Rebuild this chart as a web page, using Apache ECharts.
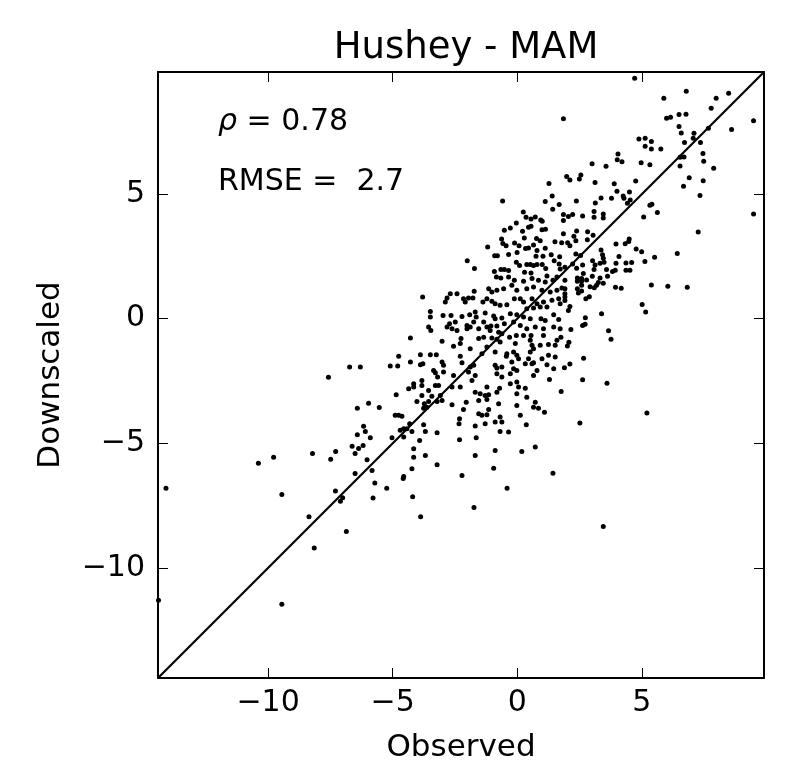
<!DOCTYPE html>
<html>
<head>
<meta charset="UTF-8">
<title>Hushey - MAM</title>
<script src="https://cdn.jsdelivr.net/npm/echarts@6/dist/echarts.min.js"></script>
</head>
<body style="margin:0;background:#fff">
<div id="chart" style="width:791px;height:768px;"></div>
<script type="text/javascript">
    // axis limits (same on both axes) and tick positions
    var axisRange = [-14.42, 9.9];
    var tickValues = [-10, -5, 0, 5];
    var titleText = 'Hushey - MAM';
    var xName = 'Observed';
    var yName = 'Downscaled';
    var rhoText = '0.78';
    var rmseText = '2.7';

    // [observed, downscaled]
    var points = [
        // upper right
        [4.71,9.65],[1.85,8.02],[5.88,8.85],[6.78,9.13],[7.98,8.85],[8.48,9.05],[5.99,8.04],[6.15,8.08],[6.49,8.19],[6.77,8.2],
        [7.78,8.45],[9.48,7.94],[6.49,7.71],[6.58,7.45],[7.09,7.44],[7.06,7.24],[7.35,7.07],[7.67,7.64],[8.6,7.59],[6.71,7.07],
        [4.88,7.21],[5.13,7.24],[5.38,7.11],[5.13,6.92],[5.38,6.81],[5.76,6.81],[4.04,6.61],[4.01,6.38],[4.2,6.3],[4.97,6.26],
        [5.32,6.18],[6.53,6.48],[6.69,6.49],[6.53,6.13],[7.45,6.63],[7.48,6.32],[7.88,6.04],[3.0,6.22],[3.56,6.12],[1.98,5.71],
        [2.11,5.57],[2.49,5.61],[2.55,5.77],[3.12,5.47],[3.89,5.42],[4.75,5.53],[6.9,5.66],[6.67,5.31],[7.46,5.54],[7.33,4.94],
        [4.0,5.11],[4.5,5.08],[4.25,4.92],[4.28,4.83],[4.53,4.76],[4.42,4.63],[3.78,4.83],[3.36,4.84],[3.13,4.64],[2.37,4.72],
        [9.48,4.2],[5.4,4.59],[5.32,4.55],[5.62,4.26],[5.07,4.08],[7.26,3.48],[6.42,2.62],[1.85,4.18],[2.05,4.1],[2.22,4.18],
        [2.62,4.12],[3.08,4.3],[3.08,4.07],[3.45,4.2],[3.45,4.04],[2.38,3.52],[2.27,3.31],[2.82,3.49],[3.04,3.35],[2.81,3.17],
        [1.85,3.41],[2.02,3.05],[2.11,2.93],[2.35,3.13],[2.35,2.6],[2.54,2.54],[3.36,2.76],[3.42,2.57],[3.96,3.0],[4.33,3.01],
        [4.49,3.2],[4.47,3.1],[4.77,2.8],[4.99,2.69],[4.08,2.5],[5.51,2.47],[5.12,2.29],[4.59,2.25],[4.36,2.23],[4.36,1.94],
        [4.52,1.94],[3.96,2.22],[3.93,1.94],[3.45,2.43],[3.48,2.26],[3.02,2.33],[3.12,2.15],[3.32,2.22],[3.08,1.97],[3.58,1.97],
        [3.82,1.89],[2.62,2.15],[2.38,2.02],[2.22,2.19],[1.91,2.06],[2.65,1.81],[1.78,3.05],
        // right middle
        [1.91,1.54],[2.41,1.63],[2.41,1.5],[2.58,1.61],[2.58,1.5],[2.78,1.55],[3.01,1.7],[3.32,1.63],[3.25,1.45],[3.45,1.42],
        [3.18,1.34],[3.62,1.7],[2.92,1.28],[3.09,1.24],[2.58,1.34],[2.41,1.2],[2.45,1.03],[2.58,1.11],[1.91,1.2],[1.91,1.0],
        [1.91,0.87],[1.91,0.73],[2.11,0.49],[2.05,0.33],[2.75,0.8],[2.89,0.88],[3.94,1.26],[4.17,1.22],[5.38,1.35],[6.04,1.3],
        [6.82,1.26],[5.01,0.57],[5.15,0.27],[3.38,0.2],[2.73,0.04],[2.62,-0.27],[2.72,-0.22],[2.15,-0.43],[3.66,-0.48],[3.76,-0.83],
        [2.07,-0.95],[2.01,-1.1],[2.66,-1.59],[2.11,-1.82],[1.89,-1.97],[2.62,-2.45],[3.6,-2.59],[5.2,-3.79],[2.51,-4.19],
        // lower left and bottom
        [-6.73,-1.94],[-6.3,-1.94],[-7.58,-2.35],[-6.42,-3.59],[-6.42,-4.66],[-6.63,-5.12],[-6.51,-5.41],[-6.37,-5.21],[-7.29,-5.33],[-7.49,-5.64],
        [-8.22,-5.41],[-9.78,-5.56],[-10.39,-5.8],[-6.51,-6.21],[-14.1,-6.8],[-9.45,-7.06],[-7.3,-6.92],[-7.01,-7.19],[-7.1,-7.33],[-8.36,-7.95],
        [-6.86,-8.54],[-8.15,-9.2],[-9.45,-11.46],[-14.4,-11.3],[-5.72,-6.59],[-5.24,-6.8],[-5.79,-7.2],[-4.2,-7.15],[-4.58,-6.41],[-3.88,-7.95],
        [-1.74,-7.58],[-0.41,-6.8],[3.45,-8.34],
        // upper centre
        [1.27,5.43],[1.4,4.92],[1.12,4.7],[-0.59,4.72],[1.42,4.39],[1.68,4.58],[0.24,4.28],[0.35,4.07],[0.55,4.0],[0.72,4.08],
        [0.94,3.96],[1.0,3.91],[-0.04,3.84],[-0.28,3.64],[-0.52,3.55],[0.21,3.51],[0.45,3.67],[0.55,3.71],[0.99,3.57],[1.13,3.59],
        [1.85,3.94],[-0.63,3.2],[0.28,3.24],[0.77,3.22],[0.92,3.13],[-0.45,2.93],[-0.58,3.02],[-0.11,3.04],[0.07,2.93],[0.33,2.82],
        [0.45,2.84],[0.65,2.96],[0.79,2.74],[1.12,2.83],[1.51,3.09],[-1.19,2.88],[-0.8,2.53],[-0.91,2.53],[-0.35,2.58],[-0.01,2.66],
        [0.75,2.51],[1.03,2.51],[1.36,2.57],[1.7,2.49],[-2.01,2.33],[-1.72,2.01],[-0.92,1.89],[-0.52,1.97],[-0.66,1.97],[-0.35,1.93],
        [-0.04,2.26],[0.09,2.13],[0.38,2.17],[0.52,2.17],[0.65,2.13],[0.79,2.17],[1.0,2.17],[1.14,2.01],[1.48,2.33],[1.68,2.19],
        [1.72,1.99],[0.29,1.86],[0.55,1.83],
        // centre
        [-0.84,1.67],[-0.66,1.63],[-0.35,1.67],[-0.12,1.54],[0.25,1.5],[0.59,1.61],[0.85,1.54],[1.12,1.47],[1.43,1.54],[1.59,1.67],
        [1.19,1.71],[-0.22,1.34],[-0.55,1.2],[-0.82,1.14],[-1.02,1.07],[-1.15,1.2],[-0.02,1.14],[0.38,1.2],[0.65,1.27],[0.99,1.14],
        [1.32,1.07],[1.59,1.14],[1.79,1.23],[-2.69,1.0],[-2.42,1.0],[-1.73,1.1],
        [-3.8,0.87],[-2.82,0.83],[-2.89,0.67],[-2.16,0.8],[-1.96,0.83],[-1.78,0.83],[-2.09,0.67],[-1.22,0.8],[-1.38,0.67],[-1.02,0.7],
        [-0.89,0.6],[-0.69,0.54],[-0.42,0.56],[-0.12,0.8],[0.12,0.8],[0.25,0.67],[0.59,0.8],[0.79,0.6],[1.05,0.67],[1.39,0.74],
        [1.66,0.8],[1.72,0.6],[0.38,0.4],[0.65,0.43],[0.92,0.47],[1.19,0.47],
        [-3.49,0.29],[-3.49,0.07],[-2.98,0.13],[-2.66,0.13],[-2.22,0.09],[-1.91,0.16],[-1.69,0.27],[-1.65,0.07],[-1.29,0.23],[-0.95,0.11],
        [-0.89,0.0],[-0.62,0.03],[-0.28,0.2],[-0.02,0.16],[0.25,0.07],[0.52,0.0],[0.95,0.0],[1.12,-0.07],[1.46,0.16],[1.66,-0.03],
        [-2.72,-0.2],[-2.49,-0.13],[-2.02,-0.27],[-1.75,-0.13],[-1.35,-0.13],[-1.22,-0.33],[-1.06,-0.29],[-0.82,-0.29],[-0.52,-0.2],[-0.15,-0.13],
        [0.12,-0.27],[0.38,-0.4],[0.72,-0.33],[1.05,-0.4],[1.46,-0.33],[1.72,-0.4],
        [-3.56,-0.33],[-3.47,-0.47],[-2.82,-0.33],[-2.62,-0.4],[-2.42,-0.47],[-2.02,-0.4],[-1.89,-0.33],[-1.55,-0.4],[-1.09,-0.47],[-0.75,-0.54],
        [-0.62,-0.6],[-0.31,-0.74],[-0.04,-0.67],[0.25,-0.67],[0.55,-0.67],[1.05,-0.67],[-4.29,-0.78],[-3.02,-0.91],[-2.26,-0.8],[-1.55,-0.8],
        [-1.35,-0.74],[-1.02,-0.78],[-0.82,-0.83],[-0.69,-0.94],[-0.08,-1.0],[0.52,-0.87],[0.59,-1.07],[0.92,-1.07],[1.25,-1.04],[1.52,-1.07],
        [1.59,-0.87],[1.75,-0.74],
        [-2.56,-1.11],[-2.29,-1.0],[-1.89,-1.21],[-1.42,-1.41],[-1.22,-1.14],[-0.89,-1.34],[-0.42,-1.41],[-0.44,-1.51],[-0.15,-1.34],[-0.02,-1.47],
        [0.05,-1.61],[0.52,-1.34],[0.65,-1.21],[0.45,-1.61],[0.99,-1.61],[1.25,-1.47],[1.52,-1.54],[-4.76,-1.51],[-3.89,-1.45],[-3.49,-1.45],
        [-3.25,-1.45],[-4.29,-1.74],[-3.02,-1.74],[-2.96,-1.87],[-2.29,-1.51],[-2.22,-1.77],[-1.89,-1.94],[-1.75,-1.87],[-1.96,-2.14],[-1.69,-2.28],
        [-0.89,-1.87],[-0.82,-1.98],[-0.62,-1.94],[-0.22,-1.74],[-0.15,-2.01],[0.32,-1.81],[0.59,-1.81],[0.65,-1.77],[0.79,-2.08],[1.19,-1.85],
        [1.46,-2.01],
        [-5.1,-1.9],[-4.8,-1.9],[-3.89,-1.85],[-3.79,-1.81],[-3.36,-2.08],[-3.29,-2.17],[-3.2,-2.34],[-2.96,-2.14],[-2.56,-2.28],[-1.82,-2.48],
        [-0.82,-2.21],[-0.62,-2.34],[-0.28,-2.21],[-0.02,-2.08],[0.65,-2.28],[1.29,-2.44],
        [-4.16,-2.61],[-3.83,-2.48],[-4.16,-2.74],[-3.83,-2.68],[-3.29,-2.68],[-3.16,-2.68],[-4.36,-2.81],[-3.56,-2.88],[-2.62,-2.74],[-2.29,-2.74],
        [-1.22,-2.74],[-0.82,-2.95],[-0.71,-2.79],[-0.28,-2.61],[-0.02,-2.54],[0.05,-2.74],[0.32,-2.79],[-0.02,-3.01],[-1.69,-2.95],[-1.49,-3.01],
        [-1.29,-3.08],[-1.15,-3.05],[-1.22,-3.24],[-4.86,-3.05],[-3.83,-3.08],[-3.43,-3.11],[-3.09,-3.08],[-4.03,-3.32],[-3.73,-3.41],[-3.56,-3.32],
        [-3.22,-3.32],[-3.02,-3.28],[-2.62,-3.45],[-2.05,-3.35],[-1.55,-3.28],[-0.75,-3.41],[-0.02,-3.48],[0.38,-3.15],[0.72,-3.35],[1.76,-2.92],
        [-5.97,-3.39],[-5.54,-3.56],[-3.76,-3.59],[-3.63,-3.55],[-2.16,-3.64],[-1.55,-3.82],[-1.42,-3.88],[-1.22,-3.86],[-1.15,-3.64],[-0.69,-3.95],
        [-0.62,-4.15],[0.12,-3.88],[0.36,-4.26],[0.65,-3.55],[0.85,-3.59],[1.09,-3.75],[-4.9,-3.88],[-4.76,-3.88],[-4.63,-3.92],[-4.32,-4.22],
        [-4.56,-4.42],[-4.7,-4.48],[-4.43,-4.42],[-4.23,-4.53],[-3.76,-4.26],[-3.69,-4.53],[-3.22,-4.58],[-2.32,-4.02],[-2.34,-4.22],[-1.69,-4.31],
        [-1.29,-4.22],[-0.89,-4.15],[-0.35,-4.55],[-0.69,-4.53],
        [-6.17,-4.32],[-6.1,-4.53],[-5.9,-4.78],[-5.03,-4.78],[-4.56,-4.75],[-3.92,-4.89],[-2.32,-4.86],[-1.65,-4.78],[-0.89,-5.29],[0.18,-5.33],
        [0.72,-5.15],[-6.19,-5.09],[-4.16,-5.22],
        [-6.03,-5.66],[-5.83,-6.09],[-4.16,-5.56],[-3.69,-5.49],[-3.22,-5.86],[-4.23,-6.02],[-4.56,-6.33],[-2.22,-6.29],[-1.69,-5.49],[-0.95,-6.0],
        [1.43,-6.2]
    ];

    var font = 'DejaVu Sans';
    function minusSign(v) {
        return String(v).replace('-', '\u2212');
    }
    var tick = {
        show: true, inside: true, length: 10,
        lineStyle: { color: '#000', width: 1 },
        customValues: tickValues
    };
    var frame = { show: true, onZero: false, lineStyle: { color: '#000', width: 2 } };
    var nameStyle = { fontFamily: font, fontSize: 31, color: '#000' };
    var labelStyle = {
        customValues: tickValues, formatter: minusSign,
        fontFamily: font, fontSize: 30, color: '#000'
    };

    var myChart = echarts.init(document.getElementById('chart'));
    myChart.setOption({
        animation: false,
        backgroundColor: '#fff',
        title: {
            text: titleText,
            left: 461,
            top: 25,
            textAlign: 'center',
            textStyle: { fontFamily: font, fontSize: 37, fontWeight: 'normal', color: '#000' }
        },
        grid: { left: 158, right: 27, top: 72, bottom: 90 },
        xAxis: [{
            type: 'value', position: 'bottom',
            min: axisRange[0], max: axisRange[1],
            name: xName, nameLocation: 'middle', nameGap: 54, nameTextStyle: nameStyle,
            axisLine: frame, axisTick: tick,
            axisLabel: Object.assign({ margin: 10 }, labelStyle),
            splitLine: { show: false }
        }, {
            type: 'value', position: 'top',
            min: axisRange[0], max: axisRange[1],
            axisLine: frame, axisTick: tick,
            axisLabel: { show: false }, splitLine: { show: false }
        }],
        yAxis: [{
            type: 'value', position: 'left',
            min: axisRange[0], max: axisRange[1],
            name: yName, nameLocation: 'middle', nameGap: 92, nameTextStyle: nameStyle,
            axisLine: frame, axisTick: tick,
            axisLabel: Object.assign({ margin: 13 }, labelStyle),
            splitLine: { show: false }
        }, {
            type: 'value', position: 'right',
            min: axisRange[0], max: axisRange[1],
            axisLine: frame, axisTick: tick,
            axisLabel: { show: false }, splitLine: { show: false }
        }],
        graphic: [{
            type: 'text', left: 218, top: 107,
            style: {
                text: '{i|\u03c1} = ' + rhoText,
                fontFamily: font, fontSize: 30, fill: '#000',
                rich: { i: { fontStyle: 'italic', fontFamily: font, fontSize: 30, fill: '#000' } }
            }
        }, {
            type: 'text', left: 218, top: 167,
            style: { text: 'RMSE =  ' + rmseText, fontFamily: font, fontSize: 30, fill: '#000' }
        }],
        series: [{
            type: 'scatter',
            xAxisIndex: 0, yAxisIndex: 0,
            data: points,
            symbolSize: 5,
            itemStyle: { color: '#000', opacity: 1 }
        }, {
            type: 'line',
            xAxisIndex: 0, yAxisIndex: 0,
            data: [[axisRange[0], axisRange[0]], [axisRange[1], axisRange[1]]],
            symbol: 'none',
            lineStyle: { color: '#000', width: 2.2 }
        }]
    });
</script>
</body>
</html>
